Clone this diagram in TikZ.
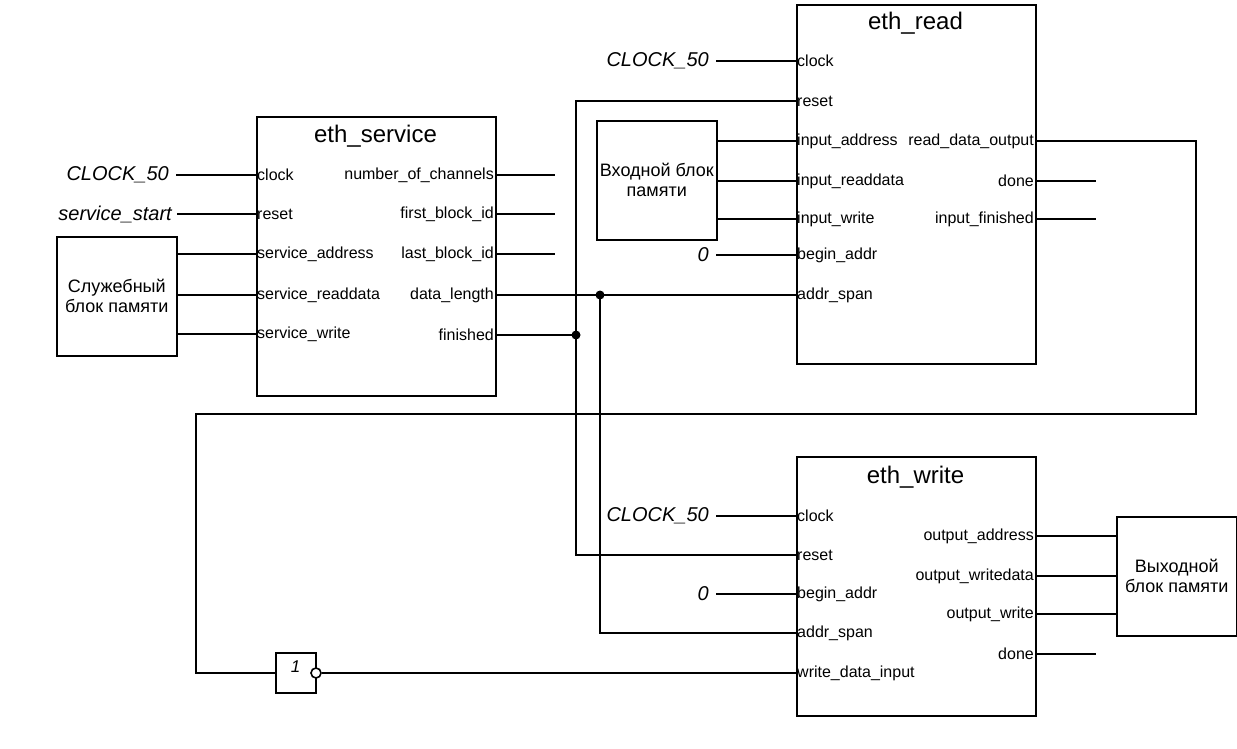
\documentclass[tikz,border=0pt]{standalone}
\usepackage{fontspec}
\setmainfont{Liberation Sans}
\begin{document}
\begin{tikzpicture}[x=1pt,y=-1pt,
  wire/.style={line width=1.6pt},
  box/.style={draw,line width=1.6pt,minimum width=239pt,anchor=north west,inner sep=0pt},
  mem/.style={draw,line width=1.6pt,minimum width=120pt,minimum height=119pt,anchor=north west,align=center,inner sep=0pt,font=\fontsize{18}{20}\selectfont},
  title/.style={font=\fontsize{24}{28}\selectfont},
  lport/.style={anchor=west,inner sep=1pt,font=\fontsize{16}{19}\selectfont},
  rport/.style={anchor=east,inner sep=1pt,font=\fontsize{16}{19}\selectfont},
  sig/.style={anchor=east,inner sep=7pt,font=\fontsize{20}{24}\selectfont\itshape},
  jdot/.style={circle,fill=black,inner sep=0pt,minimum size=9pt}
]
\useasboundingbox (0,0) rectangle (1237,749);

% ---------- eth_service ----------
\node[box,minimum height=279pt] (svc) at (256,116) {};
\node[title] (svct) at (375.5,136) {eth\_service};
\node[lport] (s-clk) at (256,175) {clock};
\node[lport] (s-rst) at (256,214) {reset};
\node[lport] (s-adr) at (256,254) {service\_address};
\node[lport] (s-rd)  at (256,295) {service\_readdata};
\node[lport] (s-wr)  at (256,334) {service\_write};
\node[rport] (s-nch) at (495,175) {number\_of\_channels};
\node[rport] (s-fb)  at (495,214) {first\_block\_id};
\node[rport] (s-lb)  at (495,254) {last\_block\_id};
\node[rport] (s-dl)  at (495,295) {data\_length};
\node[rport] (s-fin) at (495,335) {finished};

\node[sig] (c50a) at (176,175) {CLOCK\_50};
\node[sig,inner sep=5pt] (sst) at (177,214) {service\_start};
\node[mem] (smem) at (56,236) {Служебный\\блок памяти};

\draw[wire] (c50a.east) -- (s-clk.west);
\draw[wire] (sst.east) -- (s-rst.west);
\draw[wire] (smem.east |- s-adr) -- (s-adr.west);
\draw[wire] (smem.east |- s-rd) -- (s-rd.west);
\draw[wire] (smem.east |- s-wr) -- (s-wr.west);

\coordinate (e1) at (555,175);
\coordinate (e2) at (555,214);
\coordinate (e3) at (555,254);
\draw[wire] (s-nch.east) -- (e1);
\draw[wire] (s-fb.east) -- (e2);
\draw[wire] (s-lb.east) -- (e3);

% ---------- eth_read ----------
\node[box,minimum height=359pt] (rd) at (796,4) {};
\node[title] (rdt) at (915.5,23) {eth\_read};
\node[lport] (r-clk) at (796,61)  {clock};
\node[lport] (r-rst) at (796,101) {reset};
\node[lport] (r-ia)  at (796,141) {input\_address};
\node[lport] (r-ird) at (796,181) {input\_readdata};
\node[lport] (r-iw)  at (796,219) {input\_write};
\node[lport] (r-ba)  at (796,255) {begin\_addr};
\node[lport] (r-sp)  at (796,295) {addr\_span};
\node[rport] (r-rdo) at (1035,141) {read\_data\_output};
\node[rport] (r-dn)  at (1035,181) {done};
\node[rport] (r-if)  at (1035,219) {input\_finished};

\node[sig] (c50b) at (716,61) {CLOCK\_50};
\node[sig] (z1) at (716,255) {0};
\node[mem] (imem) at (596,120) {Входной блок\\памяти};

\draw[wire] (c50b.east) -- (r-clk.west);
\draw[wire] (z1.east) -- (r-ba.west);
\draw[wire] (imem.east |- r-ia) -- (r-ia.west);
\draw[wire] (imem.east |- r-ird) -- (r-ird.west);
\draw[wire] (imem.east |- r-iw) -- (r-iw.west);

\coordinate (e4) at (1096,181);
\coordinate (e5) at (1096,219);
\draw[wire] (r-dn.east) -- (e4);
\draw[wire] (r-if.east) -- (e5);

% ---------- eth_write ----------
\node[box,minimum height=259pt] (wr) at (796,456) {};
\node[title] (wrt) at (915.5,477) {eth\_write};
\node[lport] (w-clk) at (796,516) {clock};
\node[lport] (w-rst) at (796,555) {reset};
\node[lport] (w-ba)  at (796,594) {begin\_addr};
\node[lport] (w-sp)  at (796,633) {addr\_span};
\node[lport] (w-wdi) at (796,673) {write\_data\_input};
\node[rport] (w-oa)  at (1035,536) {output\_address};
\node[rport] (w-owd) at (1035,576) {output\_writedata};
\node[rport] (w-ow)  at (1035,614) {output\_write};
\node[rport] (w-dn)  at (1035,654) {done};

\node[sig] (c50c) at (716,516) {CLOCK\_50};
\node[sig] (z2) at (716,594) {0};
\node[mem] (omem) at (1116,516) {Выходной\\блок памяти};

\draw[wire] (c50c.east) -- (w-clk.west);
\draw[wire] (z2.east) -- (w-ba.west);
\draw[wire] (w-oa.east) -- (omem.west |- w-oa);
\draw[wire] (w-owd.east) -- (omem.west |- w-owd);
\draw[wire] (w-ow.east) -- (omem.west |- w-ow);
\coordinate (e6) at (1096,654);
\draw[wire] (w-dn.east) -- (e6);

% ---------- inverter ----------
\node[draw,line width=1.6pt,minimum width=40pt,minimum height=40pt,inner sep=0pt] (g) at (296,673) {};
\node[font=\fontsize{17}{20}\selectfont\itshape] (g1) at (295.5,667) {1};
\node[circle,draw,line width=1.6pt,fill=white,minimum size=10pt,inner sep=0pt] (inv) at (316,673) {};

% ---------- interconnect ----------
\coordinate (rstTop) at (576,101);
\coordinate (rstBot) at (576,555);
\node[jdot] (d1) at (576,335) {};
\draw[wire] (r-rst.west) -- (rstTop) -- (rstBot) -- (w-rst.west);
\draw[wire] (s-fin.east) -- (d1.center);

\node[jdot] (d2) at (600,295) {};
\coordinate (spBot) at (600,633);
\draw[wire] (s-dl.east) -- (r-sp.west);
\draw[wire] (d2.center) -- (spBot) -- (w-sp.west);

\coordinate (loopR) at (1196,414);
\coordinate (loopL) at (196,414);
\coordinate (loopB) at (196,673);
\draw[wire] (r-rdo.east) -| (loopR) -- (loopL) -- (loopB) -- (g.west);
\draw[wire] (inv.east) -- (w-wdi.west);
\end{tikzpicture}
\end{document}
